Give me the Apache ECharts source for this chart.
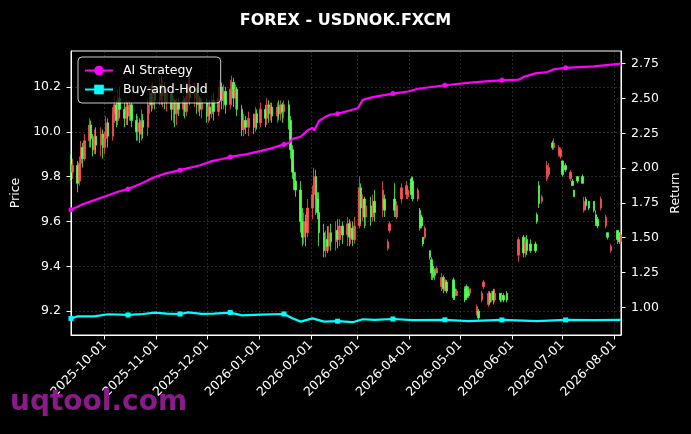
<!DOCTYPE html>
<html>
<head>
<meta charset="utf-8">
<script src="https://cdn.jsdelivr.net/npm/echarts@6/dist/echarts.min.js"></script>
<style>
html,body{margin:0;padding:0;background:#000;}
#chart{width:691px;height:434px;}
</style>
</head>
<body>
<div id="chart"></div>
<script>
// daily OHLC: [date, open, close, low, high]
var candles = [
['2025-09-11',9.86,9.82,9.78,9.90],['2025-09-12',9.82,9.85,9.79,9.88],['2025-09-15',9.85,9.77,9.73,9.87],
['2025-09-16',9.78,9.86,9.76,9.89],['2025-09-17',9.86,9.93,9.84,9.96],['2025-09-18',9.93,9.88,9.84,9.95],
['2025-09-19',9.88,9.96,9.87,9.99],['2025-09-22',9.96,10.03,9.93,10.06],['2025-09-23',10.03,9.97,9.93,10.05],
['2025-09-24',9.97,9.92,9.89,9.99],['2025-09-25',9.92,9.98,9.90,10.01],['2025-09-26',9.98,9.94,9.90,10.02],
['2025-09-29',9.94,9.99,9.89,10.02],['2025-09-30',9.99,9.93,9.88,10.01],['2025-10-01',9.93,9.97,9.90,10.00],
['2025-10-02',9.97,10.04,9.95,10.07],['2025-10-03',10.04,9.98,9.93,10.06],['2025-10-06',9.98,10.08,9.96,10.11],
['2025-10-07',10.08,10.12,10.04,10.16],['2025-10-08',10.12,10.05,10.02,10.14],['2025-10-09',10.05,10.15,10.03,10.19],
['2025-10-10',10.15,10.10,10.06,10.20],['2025-10-13',10.10,10.06,10.02,10.13],['2025-10-14',10.06,10.11,10.03,10.14],
['2025-10-15',10.11,10.07,10.03,10.13],['2025-10-16',10.07,10.12,10.05,10.14],['2025-10-17',10.12,10.05,10.02,10.13],
['2025-10-20',10.05,10.00,9.96,10.08],['2025-10-21',10.00,10.04,9.96,10.07],['2025-10-22',10.04,9.99,9.95,10.06],
['2025-10-23',9.99,10.05,9.96,10.10],['2025-10-24',10.05,10.02,9.97,10.08],['2025-10-27',10.02,10.12,9.98,10.15],
['2025-10-28',10.12,10.17,10.08,10.20],['2025-10-29',10.17,10.12,10.09,10.21],['2025-10-30',10.12,10.18,10.10,10.22],
['2025-10-31',10.18,10.14,10.10,10.20],['2025-11-03',10.14,10.21,10.12,10.24],['2025-11-04',10.21,10.16,10.12,10.25],
['2025-11-05',10.16,10.20,10.11,10.23],['2025-11-06',10.20,10.13,10.10,10.22],['2025-11-07',10.13,10.17,10.09,10.19],
['2025-11-10',10.17,10.10,10.05,10.18],['2025-11-11',10.10,10.14,10.04,10.16],['2025-11-12',10.14,10.08,10.02,10.15],
['2025-11-13',10.08,10.13,10.03,10.15],['2025-11-14',10.13,10.10,10.07,10.15],['2025-11-17',10.10,10.14,10.07,10.16],
['2025-11-18',10.14,10.09,10.06,10.15],['2025-11-19',10.09,10.16,10.07,10.19],['2025-11-20',10.16,10.21,10.13,10.24],
['2025-11-21',10.21,10.15,10.12,10.25],['2025-11-24',10.15,10.19,10.11,10.22],['2025-11-25',10.19,10.12,10.08,10.20],
['2025-11-26',10.12,10.15,10.09,10.17],['2025-11-27',10.15,10.10,10.07,10.16],['2025-11-28',10.10,10.13,10.06,10.15],
['2025-12-01',10.13,10.07,10.04,10.15],['2025-12-02',10.07,10.11,10.04,10.13],['2025-12-03',10.11,10.08,10.05,10.14],
['2025-12-04',10.08,10.14,10.06,10.16],['2025-12-05',10.14,10.09,10.05,10.17],['2025-12-08',10.09,10.15,10.07,10.20],
['2025-12-09',10.15,10.20,10.11,10.23],['2025-12-10',10.20,10.14,10.10,10.22],['2025-12-11',10.14,10.18,10.10,10.21],
['2025-12-12',10.18,10.12,10.08,10.20],['2025-12-15',10.12,10.19,10.10,10.23],['2025-12-16',10.19,10.22,10.14,10.25],
['2025-12-17',10.22,10.15,10.11,10.24],['2025-12-18',10.15,10.19,10.10,10.21],['2025-12-19',10.19,10.10,10.07,10.20],
['2025-12-22',10.10,10.01,9.98,10.12],['2025-12-23',10.01,10.05,9.98,10.08],['2025-12-24',10.05,10.02,9.99,10.07],
['2025-12-26',10.02,10.06,9.98,10.09],['2025-12-29',10.06,10.02,9.99,10.08],['2025-12-30',10.02,10.08,10.00,10.11],
['2025-12-31',10.08,10.04,10.01,10.10],['2026-01-02',10.04,10.10,10.02,10.13],['2026-01-05',10.10,10.06,10.02,10.12],
['2026-01-06',10.06,10.12,10.03,10.15],['2026-01-07',10.12,10.08,10.04,10.14],['2026-01-08',10.08,10.11,10.05,10.13],
['2026-01-09',10.11,10.07,10.04,10.13],['2026-01-12',10.07,10.11,10.04,10.13],['2026-01-13',10.11,10.08,10.05,10.14],
['2026-01-14',10.08,10.12,10.05,10.14],['2026-01-15',10.12,10.09,10.04,10.13],['2026-01-16',10.09,10.12,10.06,10.14],
['2026-01-19',10.12,10.05,10.01,10.14],['2026-01-20',10.05,9.92,9.88,10.07],['2026-01-21',9.92,9.82,9.79,9.94],
['2026-01-22',9.82,9.78,9.74,9.86],['2026-01-23',9.78,9.74,9.71,9.82],['2026-01-26',9.74,9.60,9.55,9.78],
['2026-01-27',9.60,9.53,9.49,9.66],['2026-01-28',9.53,9.60,9.50,9.64],['2026-01-29',9.60,9.55,9.49,9.63],
['2026-01-30',9.55,9.66,9.53,9.70],['2026-02-02',9.66,9.72,9.61,9.76],['2026-02-03',9.72,9.80,9.68,9.84],
['2026-02-04',9.80,9.70,9.63,9.83],['2026-02-05',9.70,9.64,9.61,9.73],['2026-02-06',9.64,9.55,9.49,9.73],
['2026-02-09',9.55,9.47,9.44,9.59],['2026-02-10',9.47,9.52,9.44,9.56],['2026-02-11',9.52,9.49,9.46,9.58],
['2026-02-12',9.49,9.55,9.47,9.58],['2026-02-13',9.55,9.51,9.47,9.59],['2026-02-16',9.51,9.56,9.47,9.60],
['2026-02-17',9.56,9.52,9.48,9.61],['2026-02-18',9.52,9.58,9.49,9.61],['2026-02-20',9.58,9.54,9.50,9.60],
['2026-02-23',9.54,9.59,9.49,9.62],['2026-02-24',9.59,9.53,9.49,9.61],['2026-02-25',9.53,9.57,9.50,9.60],
['2026-02-26',9.57,9.52,9.49,9.60],['2026-02-27',9.52,9.58,9.50,9.62],['2026-03-02',9.58,9.75,9.57,9.80],
['2026-03-03',9.75,9.66,9.59,9.77],['2026-03-04',9.66,9.70,9.60,9.72],['2026-03-05',9.70,9.62,9.57,9.71],
['2026-03-06',9.62,9.67,9.58,9.69],['2026-03-09',9.67,9.62,9.58,9.71],['2026-03-10',9.62,9.69,9.60,9.72],
['2026-03-11',9.69,9.64,9.60,9.74],['2026-03-16',9.66,9.74,9.62,9.78],['2026-03-17',9.70,9.65,9.62,9.72],
['2026-03-19',9.48,9.51,9.47,9.52],['2026-03-20',9.56,9.59,9.55,9.60],['2026-03-23',9.70,9.65,9.62,9.77],
['2026-03-24',9.62,9.67,9.61,9.69],['2026-03-27',9.70,9.75,9.68,9.77],['2026-03-30',9.72,9.76,9.70,9.78],
['2026-03-31',9.71,9.74,9.70,9.75],['2026-04-02',9.79,9.72,9.70,9.80],['2026-04-03',9.78,9.70,9.69,9.80],
['2026-04-06',9.70,9.74,9.69,9.75],['2026-04-07',9.65,9.57,9.56,9.66],['2026-04-08',9.62,9.58,9.57,9.63],
['2026-04-09',9.53,9.50,9.49,9.53],['2026-04-10',9.53,9.57,9.52,9.58],['2026-04-13',9.47,9.44,9.43,9.47],
['2026-04-14',9.43,9.37,9.34,9.44],['2026-04-15',9.40,9.35,9.34,9.41],['2026-04-16',9.38,9.36,9.34,9.39],
['2026-04-17',9.37,9.39,9.37,9.40],['2026-04-20',9.31,9.35,9.29,9.37],['2026-04-21',9.35,9.30,9.28,9.36],
['2026-04-22',9.30,9.34,9.29,9.35],['2026-04-23',9.33,9.29,9.28,9.34],['2026-04-27',9.34,9.26,9.25,9.35],
['2026-04-28',9.30,9.27,9.25,9.32],['2026-04-29',9.27,9.29,9.27,9.30],['2026-05-04',9.30,9.25,9.24,9.31],
['2026-05-05',9.31,9.26,9.25,9.32],['2026-05-06',9.29,9.27,9.26,9.31],['2026-05-07',9.28,9.30,9.28,9.30],
['2026-05-11',9.19,9.22,9.18,9.23],['2026-05-12',9.20,9.17,9.16,9.21],['2026-05-14',9.25,9.28,9.24,9.29],
['2026-05-15',9.31,9.33,9.30,9.34],['2026-05-18',9.23,9.28,9.22,9.29],['2026-05-19',9.28,9.24,9.23,9.29],
['2026-05-20',9.25,9.28,9.24,9.29],['2026-05-21',9.29,9.25,9.23,9.30],['2026-05-22',9.25,9.28,9.24,9.30],
['2026-05-25',9.28,9.25,9.24,9.28],['2026-05-26',9.25,9.27,9.24,9.28],['2026-05-27',9.27,9.25,9.24,9.28],
['2026-05-29',9.28,9.25,9.24,9.29],['2026-06-05',9.45,9.52,9.42,9.53],['2026-06-08',9.53,9.46,9.44,9.54],
['2026-06-09',9.46,9.51,9.44,9.53],['2026-06-10',9.52,9.47,9.45,9.54],['2026-06-12',9.50,9.47,9.46,9.52],
['2026-06-15',9.50,9.47,9.46,9.51],['2026-06-16',9.63,9.60,9.59,9.64],['2026-06-17',9.76,9.68,9.66,9.78],
['2026-06-19',9.69,9.71,9.68,9.72],['2026-06-22',9.79,9.85,9.78,9.87],['2026-06-23',9.81,9.84,9.80,9.86],
['2026-06-25',9.95,9.93,9.92,9.96],['2026-06-26',9.93,9.95,9.92,9.97],['2026-06-29',9.90,9.93,9.89,9.94],
['2026-06-30',9.89,9.92,9.88,9.93],['2026-07-01',9.87,9.81,9.80,9.87],['2026-07-03',9.85,9.83,9.82,9.86],
['2026-07-06',9.79,9.82,9.78,9.83],['2026-07-07',9.78,9.76,9.76,9.79],['2026-07-08',9.74,9.71,9.71,9.74],
['2026-07-10',9.80,9.78,9.77,9.80],['2026-07-13',9.80,9.77,9.77,9.81],['2026-07-14',9.65,9.69,9.64,9.71],
['2026-07-15',9.70,9.67,9.65,9.71],['2026-07-17',9.69,9.66,9.65,9.69],['2026-07-20',9.69,9.65,9.64,9.69],
['2026-07-21',9.63,9.59,9.58,9.65],['2026-07-22',9.61,9.58,9.57,9.62],['2026-07-24',9.66,9.70,9.65,9.71],
['2026-07-27',9.58,9.62,9.57,9.63],['2026-07-28',9.55,9.53,9.52,9.55],['2026-07-30',9.47,9.49,9.46,9.50],
['2026-08-03',9.56,9.52,9.50,9.56],['2026-08-04',9.55,9.51,9.50,9.55],['2026-08-05',9.51,9.54,9.50,9.55]
];

var strategyDates = ['2025-09-11','2025-09-18','2025-09-25','2025-10-02','2025-10-09','2025-10-15','2025-10-23',
  '2025-10-30','2025-11-06','2025-11-15','2025-11-20','2025-11-27','2025-12-04','2025-12-10','2025-12-15',
  '2025-12-25','2026-01-01','2026-01-08','2026-01-16','2026-01-19','2026-01-21','2026-01-26','2026-01-30',
  '2026-02-02','2026-02-03','2026-02-06','2026-02-10','2026-02-13','2026-02-17','2026-02-23','2026-03-01',
  '2026-03-04','2026-03-10','2026-03-22','2026-03-31','2026-04-06','2026-04-22','2026-05-04','2026-05-18',
  '2026-05-26','2026-06-05','2026-06-08','2026-06-15','2026-06-22','2026-06-26','2026-07-03','2026-07-20','2026-08-05'];
var strategyReturn = [1.70,1.74,1.77,1.80,1.83,1.85,1.89,1.93,1.96,1.985,2.00,2.02,2.05,2.065,2.08,2.10,2.12,2.14,
  2.17,2.18,2.21,2.225,2.27,2.29,2.27,2.34,2.37,2.385,2.39,2.41,2.43,2.49,2.51,2.535,2.55,2.57,2.595,2.61,2.625,
  2.63,2.635,2.655,2.68,2.69,2.71,2.72,2.73,2.75];

var holdDates = ['2025-09-11','2025-09-15','2025-09-25','2025-10-03','2025-10-15','2025-10-24','2025-10-31',
  '2025-11-07','2025-11-15','2025-11-20','2025-11-28','2025-12-05','2025-12-15','2025-12-22','2026-01-02',
  '2026-01-09','2026-01-16','2026-01-21','2026-01-26','2026-02-02','2026-02-09','2026-02-17','2026-02-26',
  '2026-03-04','2026-03-11','2026-03-22','2026-04-03','2026-04-22','2026-05-06','2026-05-26','2026-06-16',
  '2026-07-03','2026-07-20','2026-08-05'];
var holdReturn = [0.92,0.935,0.935,0.95,0.945,0.952,0.962,0.955,0.952,0.963,0.953,0.955,0.962,0.942,0.948,0.95,
  0.952,0.922,0.897,0.92,0.897,0.90,0.893,0.914,0.91,0.916,0.908,0.91,0.90,0.909,0.90,0.909,0.908,0.909];

// dates carrying a marker on both return lines
var markerDates = ['2025-09-11','2025-10-15','2025-11-15','2025-12-15','2026-01-16','2026-02-17',
  '2026-03-22','2026-04-22','2026-05-26','2026-07-03'];

var priceTicks = [9.2, 9.4, 9.6, 9.8, 10.0, 10.2];
var returnTicks = [1.00, 1.25, 1.50, 1.75, 2.00, 2.25, 2.50, 2.75];

// calendar days on the x axis
var days = [];
for (var t = Date.UTC(2025, 8, 11); t <= Date.UTC(2026, 7, 5); t += 86400000) {
    days.push(new Date(t).toISOString().slice(0, 10));
}
function monthStart(i, v) { return v.slice(8) === '01'; }

function withMarkers(dates, vals, sym) {
    return dates.map(function (d, i) {
        return { value: [d, vals[i]], symbol: markerDates.indexOf(d) >= 0 ? sym : 'none' };
    });
}

var font = 'DejaVu Sans';
var grid = 'rgba(128,128,128,0.45)';

var chart = echarts.init(document.getElementById('chart'));
chart.setOption({
    animation: false,
    backgroundColor: '#000',
    textStyle: { fontFamily: font },
    title: {
        text: 'FOREX - USDNOK.FXCM', left: 'center', top: 8,
        textStyle: { color: '#fff', fontSize: 16, fontWeight: 'bold', fontFamily: font }
    },
    legend: {
        data: ['AI Strategy', 'Buy-and-Hold'],
        orient: 'vertical', left: 78, top: 57,
        padding: [7, 13, 7, 6], itemGap: 6, itemWidth: 28, itemHeight: 12,
        backgroundColor: 'rgba(0,0,0,0.7)', borderColor: 'rgba(255,255,255,0.8)',
        borderWidth: 1, borderRadius: 4,
        textStyle: { color: '#fff', fontSize: 12.5, fontFamily: font, padding: [0, 0, 0, 5] }
    },
    grid: { left: 71, right: 70, top: 51, bottom: 99, show: true, borderColor: '#fff', borderWidth: 1, backgroundColor: '#000' },
    graphic: [{
        type: 'text', left: 10, top: 389, z: 100,
        style: { text: 'uqtool.com', fill: '#8b1a8b', font: 'bold 28px "DejaVu Sans"' }
    }],
    xAxis: {
        type: 'category', data: days, boundaryGap: false,
        axisLine: { lineStyle: { color: '#fff' } },
        axisTick: { interval: monthStart, length: 4.5, lineStyle: { color: '#fff' } },
        axisLabel: { interval: monthStart, rotate: 45, color: '#fff', fontSize: 12.5, margin: 8, fontFamily: font },
        splitLine: { show: true, interval: monthStart, lineStyle: { color: grid, type: [2, 2], width: 0.7 } }
    },
    yAxis: [{
        type: 'value', position: 'left', min: 9.094, max: 10.36, minInterval: 0.2, maxInterval: 0.2,
        name: 'Price', nameLocation: 'middle', nameGap: 45, nameRotate: 90,
        nameTextStyle: { color: '#fff', fontSize: 12.5, fontFamily: font },
        axisLine: { show: true, lineStyle: { color: '#fff' } },
        axisTick: { show: true, length: 4.5, customValues: priceTicks, lineStyle: { color: '#fff' } },
        axisLabel: { customValues: priceTicks, color: '#fff', fontSize: 12.5, margin: 10, fontFamily: font,
            formatter: function (v) { return v.toFixed(1); } },
        splitLine: { show: true, lineStyle: { color: grid, type: [2, 2], width: 0.7 } }
    }, {
        type: 'value', position: 'right', min: 0.801, max: 2.841,
        name: 'Return', nameLocation: 'middle', nameGap: 45, nameRotate: 90,
        nameTextStyle: { color: '#fff', fontSize: 12.5, fontFamily: font },
        axisLine: { show: true, lineStyle: { color: '#fff' } },
        axisTick: { show: true, length: 4.5, customValues: returnTicks, lineStyle: { color: '#fff' } },
        axisLabel: { customValues: returnTicks, color: '#fff', fontSize: 12.5, margin: 10, fontFamily: font,
            formatter: function (v) { return v.toFixed(2); } },
        splitLine: { show: false }
    }],
    series: [{
        type: 'candlestick', name: 'USDNOK', data: candles,
        encode: { x: 0, y: [1, 2, 3, 4] },
        barWidth: 2, z: 2,
        itemStyle: {
            color: '#ff5252', color0: '#52ff52', borderColor: '#ff5252', borderColor0: '#52ff52',
            borderWidth: 0.8
        }
    }, {
        type: 'line', name: 'AI Strategy', yAxisIndex: 1, z: 5,
        data: withMarkers(strategyDates, strategyReturn, 'circle'),
        symbol: 'circle', symbolSize: 5, showSymbol: true, showAllSymbol: true,
        lineStyle: { color: '#ff00ff', width: 2.2 }, itemStyle: { color: '#ff00ff' }
    }, {
        type: 'line', name: 'Buy-and-Hold', yAxisIndex: 1, z: 5,
        data: withMarkers(holdDates, holdReturn, 'rect'),
        symbol: 'rect', symbolSize: 5, showSymbol: true, showAllSymbol: true,
        lineStyle: { color: '#00ffff', width: 2.2 }, itemStyle: { color: '#00ffff' }
    }]
});
</script>
</body>
</html>
